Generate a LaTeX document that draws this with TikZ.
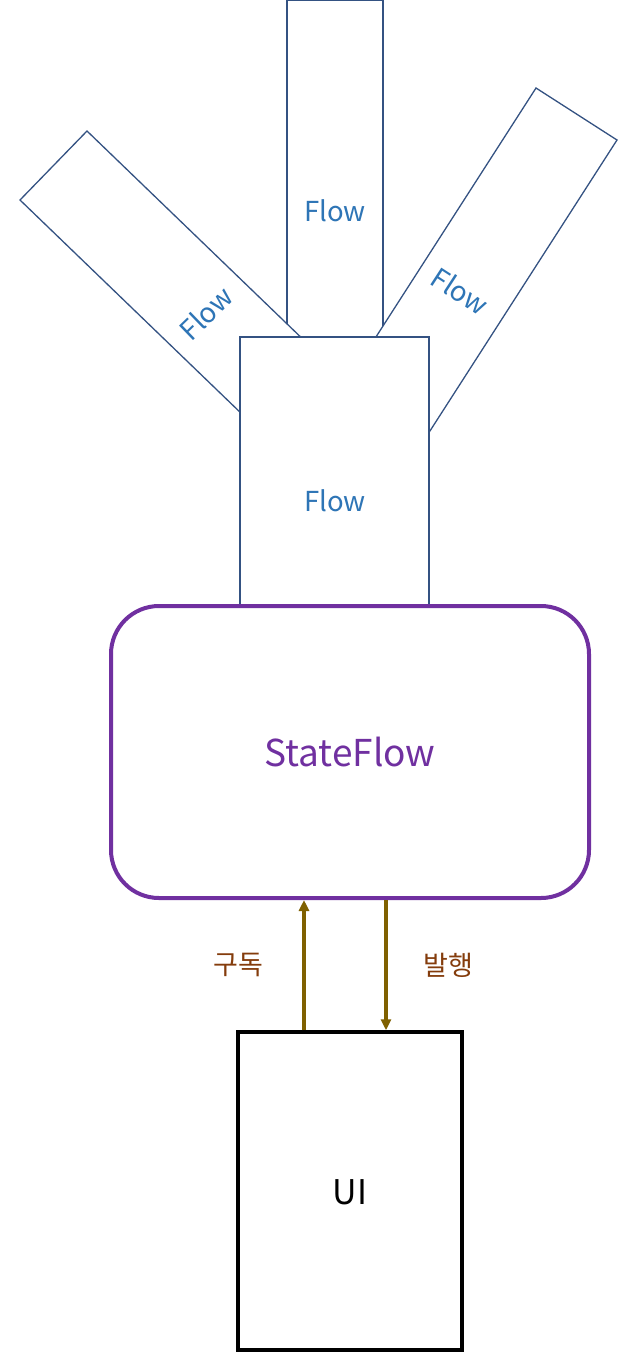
\documentclass[tikz,border=0pt]{standalone}
\usepackage{fontspec}
\setmainfont{Noto Sans CJK KR}
\usetikzlibrary{arrows.meta}
\definecolor{flowline}{RGB}{52,82,130}
\definecolor{flowtext}{RGB}{46,117,182}
\definecolor{sfpurple}{RGB}{112,48,160}
\definecolor{arrowc}{RGB}{127,96,0}
\definecolor{labelc}{RGB}{132,60,12}
\tikzset{
  flowbox/.style={draw=flowline, line width=1.3pt, fill=white},
  flowlabel/.style={text=flowtext, font=\fontsize{27.5}{32}\selectfont, inner sep=0pt},
  sfbox/.style={draw=sfpurple, line width=4pt, fill=white, rounded corners=48pt, minimum width=478pt, minimum height=292pt, inner sep=0pt},
  uibox/.style={draw=black, line width=3.5pt, fill=white, minimum width=224pt, minimum height=318pt, inner sep=0pt},
  flowarrow/.style={draw=arrowc, line width=3.5pt, -{Triangle[length=11pt,width=10pt]}},
  kolabel/.style={text=labelc, font=\fontsize{27}{32}\selectfont, inner sep=0pt}
}
\begin{document}
\begin{tikzpicture}[x=1pt,y=-1pt]
\useasboundingbox (0,0) rectangle (638,1361);
% top vertical flow box
\draw[flowbox] (287,0.7) rectangle (383,420);
\node[flowlabel] (ftop) at (335,211) {Flow};
% left diagonal flow box
\draw[flowbox] (20,200) -- (87,131) -- (339,374) -- (272,443) -- cycle;
\node[flowlabel, rotate=44] (fleft) at (206,313) {Flow};
% right diagonal flow box
\draw[flowbox] (536,88) -- (617,140) -- (401,476) -- (320,424) -- cycle;
\node[flowlabel, rotate=-33] (fright) at (460,291) {Flow};
% central flow box
\node[flowbox, minimum width=189pt, minimum height=268pt, inner sep=0pt] (fcenter) at (334.5,471) {};
\node[flowlabel] (fclabel) at (335,501) {Flow};
% StateFlow
\node[sfbox] (sf) at (350,752) {};
\node[text=sfpurple, font=\fontsize{37}{42}\selectfont, inner sep=0pt] (sflabel) at (350,752) {StateFlow};
% UI
\node[uibox] (ui) at (350,1191) {};
\node[font=\fontsize{34}{40}\selectfont, inner sep=0pt] (uilabel) at (350,1192) {UI};
% arrows
\coordinate (subx) at (304,0);
\coordinate (pubx) at (386,0);
\draw[flowarrow] (ui.north -| subx) -- (sf.south -| subx);
\draw[flowarrow] (sf.south -| pubx) -- (ui.north -| pubx);
\node[kolabel] (sub) at (238,965) {구독};
\node[kolabel] (pub) at (448,965) {발행};
\end{tikzpicture}
\end{document}
